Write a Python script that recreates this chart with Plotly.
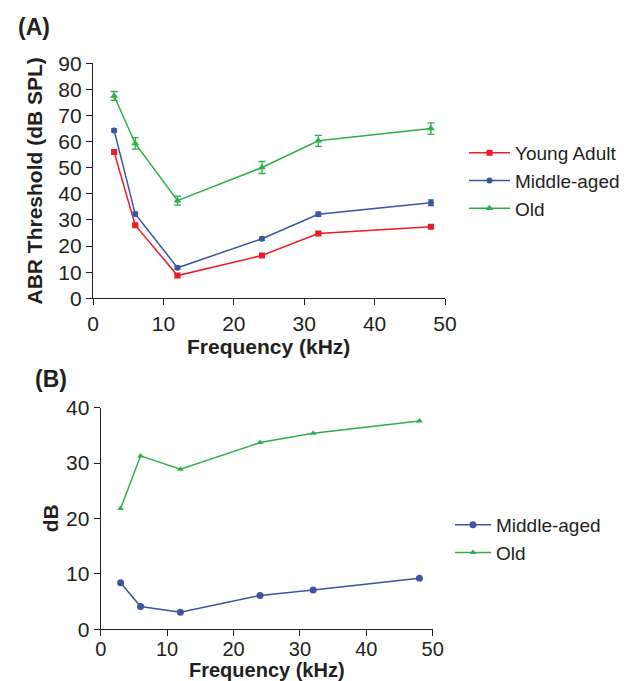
import plotly.graph_objects as go

# ---- data ----
freq = [3, 6, 12, 24, 32, 48]

young = [56.0, 28.0, 8.7, 16.4, 24.8, 27.4]
young_err = [0.6, 0.6, 0.5, 0.6, 0.6, 0.6]
middle = [64.3, 32.3, 11.7, 22.8, 32.2, 36.6]
middle_err = [0.6, 0.7, 0.6, 0.6, 0.8, 1.1]
old = [77.5, 59.3, 37.4, 50.1, 60.3, 65.0]
old_err = [1.7, 2.2, 1.7, 2.3, 2.1, 2.2]

shift_middle = [8.4, 4.1, 3.1, 6.1, 7.1, 9.2]
shift_old = [21.8, 31.3, 28.9, 33.7, 35.4, 37.6]

x_ticks = [0, 10, 20, 30, 40, 50]
ya_ticks = [0, 10, 20, 30, 40, 50, 60, 70, 80, 90]
yb_ticks = [0, 10, 20, 30, 40]

RED = "#ED1C24"
BLUE = "#3A55A4"
GREEN = "#2BB04A"
INK = "#231F20"
FONT = "Liberation Sans, Arial, sans-serif"

W, H = 629, 681
OFF = 8  # page body margin


def px(x):
    return (x - OFF) / W


def py(y):
    return 1 - (y - OFF) / H


fig = go.Figure()


def err(vals, color, w):
    return dict(type="data", array=vals, visible=True, color=color, thickness=1.3, width=w)


# Panel A
fig.add_trace(go.Scatter(x=freq, y=young, name="Young Adult", mode="lines+markers",
                         line=dict(color=RED, width=1.5),
                         marker=dict(symbol="square", size=6, color=RED),
                         error_y=err(young_err, RED, 3),
                         xaxis="x", yaxis="y", legend="legend"))
fig.add_trace(go.Scatter(x=freq, y=middle, name="Middle-aged", mode="lines+markers",
                         line=dict(color=BLUE, width=1.5),
                         marker=dict(symbol="circle", size=6, color=BLUE),
                         error_y=err(middle_err, BLUE, 3),
                         xaxis="x", yaxis="y", legend="legend"))
fig.add_trace(go.Scatter(x=freq, y=old, name="Old", mode="lines+markers",
                         line=dict(color=GREEN, width=1.5),
                         marker=dict(symbol="triangle-up", size=7, color=GREEN),
                         error_y=err(old_err, GREEN, 3.5),
                         xaxis="x", yaxis="y", legend="legend"))

# Panel B
fig.add_trace(go.Scatter(x=freq, y=shift_middle, name="Middle-aged", mode="lines+markers",
                         line=dict(color=BLUE, width=1.5),
                         marker=dict(symbol="circle", size=7, color=BLUE),
                         xaxis="x2", yaxis="y2", legend="legend2"))
fig.add_trace(go.Scatter(x=freq, y=shift_old, name="Old", mode="lines+markers",
                         line=dict(color=GREEN, width=1.5),
                         marker=dict(symbol="triangle-up", size=6, color=GREEN),
                         xaxis="x2", yaxis="y2", legend="legend2"))

axis_common = dict(showgrid=False, zeroline=False, showline=True, linecolor=INK, linewidth=1.3,
                   ticks="outside", tickwidth=1.3, tickcolor=INK, automargin=False,
                   fixedrange=True)
tf21 = dict(family=FONT, size=21, color=INK)
tf20 = dict(family=FONT, size=20, color=INK)

fig.update_layout(
    width=W, height=H,
    margin=dict(l=0, r=0, t=0, b=0, autoexpand=False),
    paper_bgcolor="white", plot_bgcolor="white",
    font=dict(family=FONT, color=INK),
    xaxis=dict(domain=[px(93), px(445)], anchor="y", range=[0, 50], tickvals=x_ticks,
               ticklen=6, tickfont=tf21, **axis_common),
    yaxis=dict(domain=[py(298.3), py(63.3)], anchor="x", range=[0, 90], tickvals=ya_ticks,
               ticklen=6, tickfont=tf21, **axis_common),
    xaxis2=dict(domain=[px(100.7), px(432.7)], anchor="y2", range=[0, 50], tickvals=x_ticks,
                ticklen=6, tickfont=tf20, ticklabelstandoff=-4, **axis_common),
    yaxis2=dict(domain=[py(629.3), py(407.7)], anchor="x2", range=[0, 40], tickvals=yb_ticks,
                ticklen=6, tickfont=tf21, **axis_common),
    legend=dict(x=px(464), xanchor="left", y=py(181), yanchor="middle", itemwidth=41,
                font=dict(family=FONT, size=19, color=INK), bgcolor="rgba(0,0,0,0)"),
    legend2=dict(x=px(450), xanchor="left", y=py(539), yanchor="middle", itemwidth=36,
                 font=dict(family=FONT, size=19, color=INK), bgcolor="rgba(0,0,0,0)"),
)

annos = [
    dict(text="<b>(A)</b>", x=34, y=27, size=23),
    dict(text="<b>(B)</b>", x=51.5, y=379, size=23),
    dict(text="<b>Frequency (kHz)</b>", x=268, y=346, size=21),
    dict(text="<b>Frequency (kHz)</b>", x=266.7, y=669.5, size=20),
    dict(text="<b>ABR Threshold (dB SPL)</b>", x=34.5, y=181, size=21, rot=-90),
    dict(text="<b>dB</b>", x=50.8, y=518.5, size=21, rot=-90),
]
for a in annos:
    fig.add_annotation(text=a["text"], x=px(a["x"]), y=py(a["y"]), xref="paper", yref="paper",
                       xanchor="center", yanchor="middle", showarrow=False,
                       textangle=a.get("rot", 0),
                       font=dict(family=FONT, size=a["size"], color=INK))

fig.write_html("out.html")
